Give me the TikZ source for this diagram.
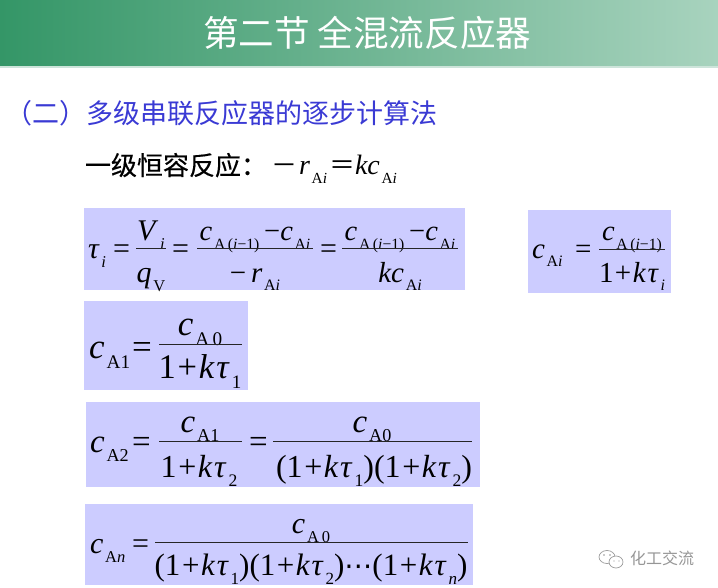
\documentclass[tikz,border=0pt]{standalone}
\usepackage{fontspec}
\setmainfont{Liberation Serif}
\newfontfamily\cjk{Noto Sans CJK SC}
\newfontfamily\cjkb[FakeBold=0.4]{Noto Sans CJK SC}
\newfontfamily\symb{DejaVu Sans}
\usetikzlibrary{calc}
\definecolor{boxfill}{RGB}{204,204,255}
\definecolor{headL}{RGB}{52,150,103}
\definecolor{headR}{RGB}{168,211,190}
\definecolor{headLine}{RGB}{205,228,218}
\definecolor{blueT}{RGB}{58,58,212}
\definecolor{markG}{RGB}{150,150,150}
\newcommand\curS{30}
\newcommand\fs[1]{\def\curS{#1}\fontsize{\fpeval{#1*.75}}{\fpeval{#1*.9}}\selectfont}
\newcommand\Sb[1]{\kern.06em\raisebox{-.3em}{\fontsize{\fpeval{\curS*.75*.55}}{1}\selectfont #1}}
\newcommand\I[1]{\textit{#1}}
\newcommand\E[5]{\node[txt,anchor=#2] (#1) at (#3) {\fs{#4}#5};}
\newcommand\R[3]{\draw[fracrule] (#1,#3) -- (#2,#3);}
\newcommand\Ca[1]{\I{c}\Sb{A\,#1}}
\newcommand\Caim{\I{c}\Sb{A\,(\I{i}−1)}}
\newcommand\Den[1]{1\kern.05em+\kern.05em\I{k}\kern.05em\I{τ}\Sb{#1}}
\tikzset{
  txt/.style={inner sep=0pt,outer sep=0pt},
  fbox/.style={fill=boxfill,draw=none},
  fracrule/.style={draw=black!85,line width=0.75pt}
}
\begin{document}
\begin{tikzpicture}[x=0.75pt,y=-0.75pt]
\useasboundingbox (0,0) rectangle (718,588);
% header
\shade[left color=headL,right color=headR] (0,0) rectangle (718,66);
\fill[headLine] (0,66) rectangle (718,68);
\node[txt,anchor=base west,text=white] (title) at (203,47) {\fs{35.6}\cjk 第二节 全混流反应器};
\node[txt,anchor=base west,text=blueT] (head) at (6,124) {\fs{27}\cjk （二）多级串联反应器的逐步计算法};
\node[txt,anchor=base west] (l3a) at (85,175) {\fs{26}\cjkb 一级恒容反应：};
\node[txt,anchor=base west] (l3b) at (271,175) {\fs{26}\cjk －};
\E{l3c}{base west}{299,175}{28}{\I{r}\Sb{A\I{i}}}
\node[txt,anchor=base west] (l3d) at (329,175) {\fs{26}\cjk ＝};
\E{l3e}{base west}{355,175}{28}{\I{kc}\Sb{A\I{i}}}
% boxes
\fill[fbox] (84,208) rectangle (465,290);
\fill[fbox] (528,210) rectangle (671,293);
\fill[fbox] (84,301) rectangle (248,390);
\fill[fbox] (86,402) rectangle (480,487);
\fill[fbox] (85,504) rectangle (473,585);
% box 1
\E{a1}{base west}{88,258}{30}{\I{τ}\Sb{\I{i}}}
\E{a2}{base west}{113,258}{30}{=}
\E{a3}{base}{151,241}{30}{\I{V}\Sb{\I{i}}}
\R{136}{166}{249}
\E{a4}{base}{151,282}{30}{\I{q}\Sb{V}}
\E{a5}{base west}{172,258}{30}{=}
\E{a6}{base}{255,241}{28.5}{\Caim\,−\I{c}\Sb{A\I{i}}}
\R{197}{313}{249}
\E{a7}{base}{255,282}{29}{−\,\I{r}\Sb{A\I{i}}}
\E{a8}{base west}{320,258}{30}{=}
\E{a9}{base}{400,241}{28.5}{\Caim\,−\I{c}\Sb{A\I{i}}}
\R{342}{458}{249}
\E{a10}{base}{400,282}{29}{\I{kc}\Sb{A\I{i}}}
% box right
\E{b1}{base west}{532,258}{29}{\I{c}\Sb{A\I{i}}}
\E{b2}{base west}{575,258}{29}{=}
\E{b3}{base}{632,241}{28.5}{\Caim}
\R{599}{665}{250}
\E{b4}{base}{632,282}{29}{\Den{\I{i}}}
% box A1
\E{c1}{base west}{89,358}{35}{\I{c}\Sb{A1}}
\E{c2}{base west}{132,358}{35}{=}
\E{c3}{base}{200,335}{35}{\Ca{0}}
\R{159}{242}{344}
\E{c4}{base}{200,378}{34.5}{\Den{1}}
% box A2
\E{d1}{base west}{90,452}{33}{\I{c}\Sb{A2}}
\E{d2}{base west}{132,452}{33}{=}
\E{d3}{base}{200,432}{33}{\I{c}\Sb{A1}}
\R{159}{242}{441}
\E{d4}{base}{199,477}{32}{\Den{2}}
\E{d5}{base west}{249,452}{33}{=}
\E{d6}{base}{372,432}{33}{\I{c}\Sb{A0}}
\R{273}{472}{441}
\E{d7}{base}{374,477}{32}{(\Den{1})(\Den{2})}
% box An
\E{e1}{base west}{90,553}{30}{\I{c}\Sb{A\I{n}}}
\E{e2}{base west}{132,553}{30}{=}
\E{e3}{base}{311,533}{30}{\Ca{0}}
\R{155}{468}{542}
\E{e4}{base}{311,575}{31}{(\Den{1})(\Den{2}){\symb\fontsize{21}{21}\selectfont ⋯}(\Den{\I{n}})}
% watermark
\draw[markG,line width=0.5pt] (607,557) ellipse (8 and 6.5);
\draw[markG,line width=0.5pt,fill=white] (616,562) ellipse (7 and 6);
\fill[markG] (604,555) circle (0.8) (610,555) circle (0.8) (614,561) circle (0.7) (619,561) circle (0.7);
\node[txt,anchor=base west,text=markG] (mark) at (630,564) {\fs{16}\cjk 化工交流};
\end{tikzpicture}
\end{document}
